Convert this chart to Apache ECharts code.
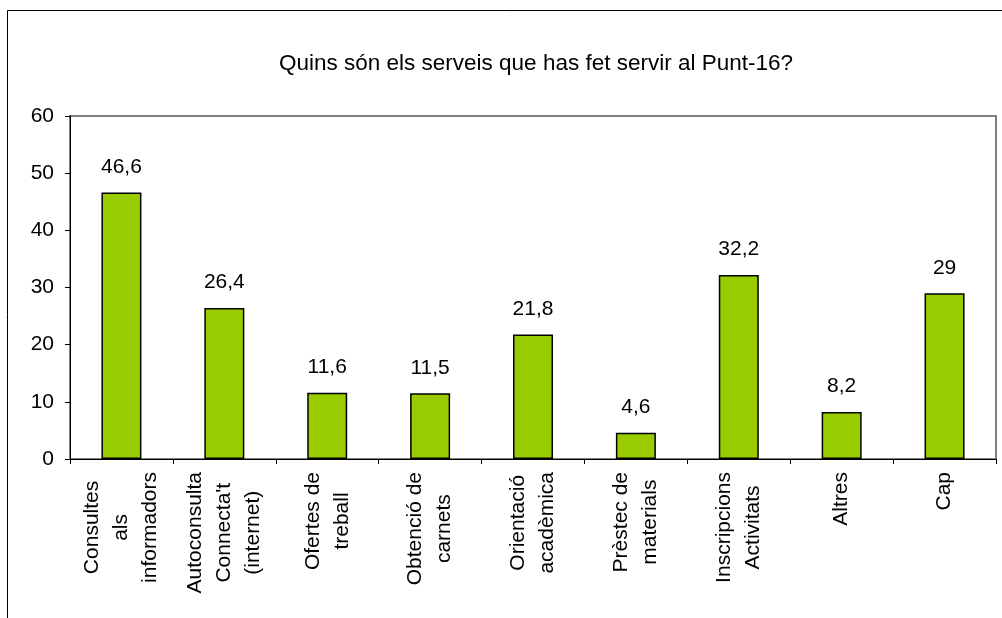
<!DOCTYPE html>
<html>
<head>
<meta charset="utf-8">
<title>Punt-16</title>
<script src="https://cdn.jsdelivr.net/npm/echarts@6/dist/echarts.min.js"></script>
<style>
	html, body { margin: 0; padding: 0; background: #fff; }
	#chart { width: 1002px; height: 618px; }
</style>
</head>
<body>
<div id="chart"></div>
<script>
// dades del grafic
var titol = "Quins són els serveis que has fet servir al Punt-16?";
var categories = [
	["Consultes", "als", "informadors"],
	["Autoconsulta", "Connecta't", "(internet)"],
	["Ofertes de", "treball"],
	["Obtenció de", "carnets"],
	["Orientació", "acadèmica"],
	["Prèstec de", "materials"],
	["Inscripcions", "Activitats"],
	["Altres"],
	["Cap"]
];
var valors = [46.6, 26.4, 11.6, 11.5, 21.8, 4.6, 32.2, 8.2, 29];
var yTicks = [0, 10, 20, 30, 40, 50, 60];

var font = "'Liberation Sans', Arial, sans-serif";

var myChart = echarts.init(document.getElementById("chart"));

var option = {
	backgroundColor: "#fff",
	animation: false,
	title: {
		text: titol,
		left: 531,
		top: 47,
		textAlign: "center",
		textStyle: {
			fontFamily: font,
			fontSize: 22.5,
			fontWeight: "normal",
			color: "#000"
		}
	},
	graphic: [{
		type: "rect",
		shape: { x: 7.5, y: 10.5, width: 1010, height: 640 },
		style: { fill: null, stroke: "#000", lineWidth: 1 },
		silent: true
	}],
	grid: {
		left: 70,
		top: 116,
		right: 6,
		bottom: 159,
		show: true,
		borderColor: "#808080",
		borderWidth: 2,
		backgroundColor: "#fff"
	},
	xAxis: {
		type: "category",
		data: categories.map(function(c) { return c.join("\n"); }),
		axisLine: { lineStyle: { color: "#000", width: 1 } },
		axisTick: { show: true, length: 5, lineStyle: { color: "#000" } },
		axisLabel: {
			rotate: 90,
			interval: 0,
			margin: 13,
			color: "#000",
			fontFamily: font,
			fontSize: 21,
			lineHeight: 29,
			formatter: function(value) {
				// cada linia centrada dins del bloc
				return value.split("\n").map(function(l) {
					return "{c|" + l + "}";
				}).join("\n");
			},
			rich: {
				c: {
					align: "center",
					fontFamily: font,
					fontSize: 21,
					lineHeight: 29,
					color: "#000"
				}
			}
		}
	},
	yAxis: {
		type: "value",
		min: yTicks[0],
		max: yTicks[yTicks.length - 1],
		interval: 10,
		splitLine: { show: false },
		axisLine: { show: true, lineStyle: { color: "#000", width: 1 } },
		axisTick: { show: true, length: 5, lineStyle: { color: "#000" } },
		axisLabel: {
			margin: 16,
			color: "#000",
			fontFamily: font,
			fontSize: 21
		}
	},
	series: [{
		type: "bar",
		data: valors,
		barWidth: 40,
		itemStyle: {
			color: "#99CC00",
			borderColor: "#000",
			borderWidth: 1.5
		},
		label: {
			show: true,
			position: "top",
			distance: 15,
			color: "#000",
			fontFamily: font,
			fontSize: 21,
			formatter: function(p) {
				return String(p.value).replace(".", ",");
			}
		}
	}]
};
myChart.setOption(option, true);
</script>
</body>
</html>
